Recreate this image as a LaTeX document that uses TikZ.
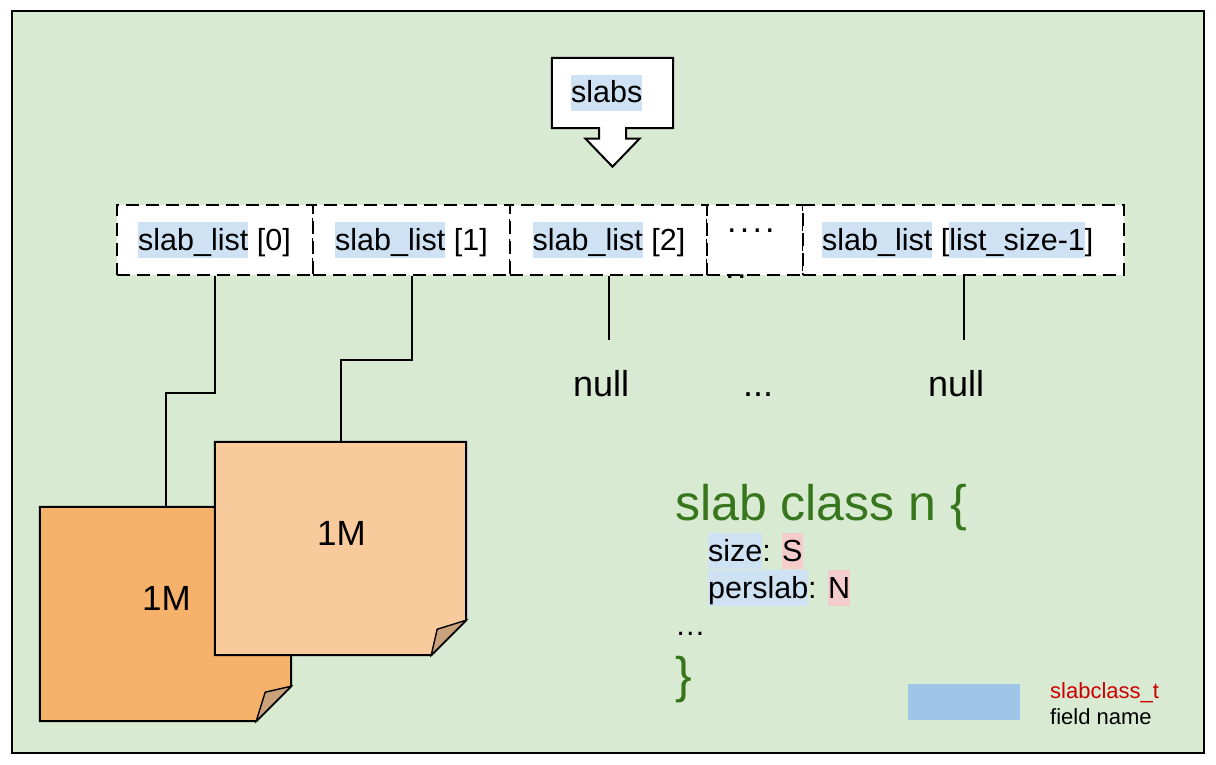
\documentclass[tikz,border=0pt]{standalone}
\usepackage{fontspec}
\setmainfont{Liberation Sans}
\definecolor{bggreen}{HTML}{D9EAD3}
\definecolor{hlblue}{HTML}{CFE2F3}
\definecolor{hlpink}{HTML}{F4CCCC}
\definecolor{legblue}{HTML}{9FC5E8}
\definecolor{codegreen}{HTML}{38761D}
\definecolor{legred}{HTML}{CC0000}
\definecolor{notedark}{HTML}{F6B26B}
\definecolor{notelight}{HTML}{F9CB9C}
\definecolor{foldbrown}{HTML}{C9A27C}
\newcommand\hlb[1]{{\setlength\fboxsep{0pt}\colorbox{hlblue}{\rule[-8pt]{0pt}{36pt}#1}}}
\newcommand\hlp[1]{{\setlength\fboxsep{0pt}\colorbox{hlpink}{\rule[-8pt]{0pt}{36pt}#1}}}
\begin{document}
\begin{tikzpicture}[x=1pt,y=-1pt,
  frame/.style={draw=black,line width=2pt,fill=bggreen},
  cellbox/.style={draw=black,fill=white,line width=2pt,dash pattern=on 13pt off 7pt,minimum height=70pt,inner sep=0pt},
  conn/.style={draw=black,line width=2pt},
  lbl/.style={inner sep=0pt,anchor=base west,font=\fontsize{30.5}{36}\selectfont},
  big/.style={inner sep=0pt,anchor=base west,font=\fontsize{36}{42}\selectfont},
  notebox/.style={inner sep=0pt,minimum width=251pt,minimum height=214pt},
  noteshape/.style={draw=black,line width=2pt,line join=miter},
  foldshape/.style={draw=black,line width=1.4pt,fill=foldbrown},
  code/.style={inner sep=0pt,anchor=base west,text=codegreen,font=\fontsize{50}{56}\selectfont},
  legtext/.style={inner sep=0pt,anchor=base west,font=\fontsize{22}{26}\selectfont}
]
\useasboundingbox (0,0) rectangle (1216,765);
\draw[frame] (12,11) rectangle (1204,753);

% slabs pointer box
\node[inner sep=0pt,minimum width=121pt,minimum height=70pt] (slabs) at (612.5,93) {};
\draw[draw=black,fill=white,line width=2pt,line join=miter]
  (slabs.north west) -- (slabs.north east) -- (slabs.south east)
  -- ([xshift=13.5pt]slabs.south) -- ++(0,10.5) -- ++(13.5,0)
  -- ([yshift=-38.5pt]slabs.south)
  -- ([xshift=-27pt,yshift=-10.5pt]slabs.south) -- ++(13.5,0)
  -- ([xshift=-13.5pt]slabs.south) -- (slabs.south west) -- cycle;
\node[lbl] (slabst) at (571,103) {\hlb{slabs}};

% slab_list cells
\node[cellbox,minimum width=196pt] (c0) at (215,240) {};
\node[cellbox,minimum width=197pt] (c1) at (411.5,240) {};
\node[cellbox,minimum width=197pt] (c2) at (608.5,240) {};
\node[cellbox,minimum width=96pt] (c3) at (755,240) {};
\node[cellbox,minimum width=321pt] (c4) at (963.5,240) {};

\node[lbl] (t0) at (138,250) {\hlb{slab\_list} [0]};
\node[lbl] (t1) at (335,250) {\hlb{slab\_list} [1]};
\node[lbl] (t2) at (532.5,250) {\hlb{slab\_list} [2]};
\node[lbl,font=\fontsize{34}{40}\selectfont] (t3a) at (727,232) {.\hspace{3.2pt}.\hspace{3.2pt}.\hspace{3.2pt}.};
\node[lbl,font=\fontsize{34}{40}\selectfont] (t3b) at (725,278) {.\hspace{2.5pt}.};
\node[lbl] (t4) at (822,250) {\hlb{slab\_list} [\hlb{list\_size-1}]};

% slab notes
\node[notebox] (m0) at (165.5,614) {};
\node[notebox,minimum height=213pt] (m1) at (340.5,548.5) {};

% connectors
\draw[conn] (c0.south) -- ++(0,116.5) -| (m0.north);
\draw[conn] (c1.south) -- ++(0,84) -| (m1.north);
\coordinate (e2) at (608.5,340);
\coordinate (e4) at (963.5,340);
\draw[conn] (c2.south) -- (e2);
\draw[conn] (c4.south) -- (e4);

\node[big] (null1) at (573,396) {null};
\node[big] (dots) at (743,396) {...};
\node[big] (null2) at (928,396) {null};

% back note
\draw[noteshape,fill=notedark] (m0.north west) -- (m0.north east) -- ([yshift=35pt]m0.south east)
  -- ([xshift=-35pt]m0.south east) -- (m0.south west) -- cycle;
\draw[foldshape] ([yshift=35pt]m0.south east) -- ([xshift=-35pt]m0.south east)
  -- ([xshift=-26pt,yshift=29pt]m0.south east) -- cycle;
\node[inner sep=0pt,anchor=base west,font=\fontsize{35}{40}\selectfont] (m0t) at (142,610) {1M};

% front note
\draw[noteshape,fill=notelight] (m1.north west) -- (m1.north east) -- ([yshift=35pt]m1.south east)
  -- ([xshift=-35pt]m1.south east) -- (m1.south west) -- cycle;
\draw[foldshape] ([yshift=35pt]m1.south east) -- ([xshift=-35pt]m1.south east)
  -- ([xshift=-29pt,yshift=26pt]m1.south east) -- cycle;
\node[inner sep=0pt,anchor=base west,font=\fontsize{35}{40}\selectfont] (m1t) at (317,545) {1M};

% slab class text
\node[code] (cls) at (675,520) {slab class n \{};
\node[lbl] (fsize) at (708,561) {\hlb{size}: \hlp{S}};
\node[lbl] (fper) at (708,598) {\hlb{perslab}: \hlp{N}};
\node[lbl] (fell) at (675,635) {…};
\node[code] (cbr) at (675,692) {\}};

% legend
\node[inner sep=0pt,minimum width=112pt,minimum height=36pt,fill=legblue] (leg) at (964,702) {};
\node[legtext,text=legred] (legt1) at (1050,698) {slabclass\_t};
\node[legtext] (legt2) at (1050,724) {field name};
\end{tikzpicture}
\end{document}
